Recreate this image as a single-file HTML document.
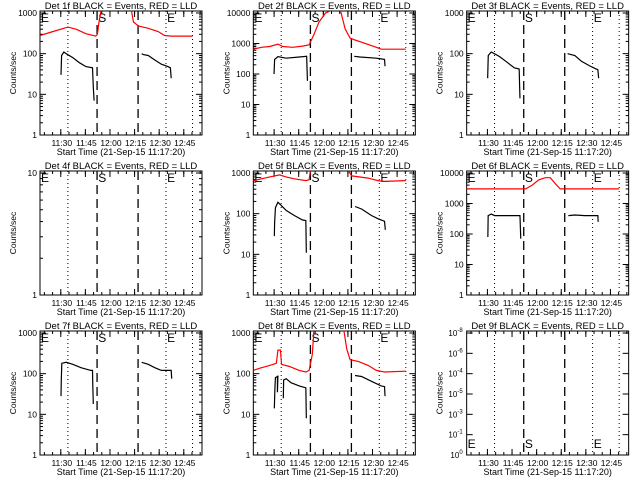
<!DOCTYPE html>
<html><head><meta charset="utf-8"><style>
html,body{margin:0;padding:0;background:#fff;}
svg{display:block;font-family:"Liberation Sans",sans-serif;}
</style></head><body>
<svg id="c" width="640" height="480" viewBox="0 0 640 480" xmlns="http://www.w3.org/2000/svg"></svg>
<script>
// minutes after 11:17:20
const markerTimes = [17, 34.8, 59.8, 76.8, 93];
const markerStyles = ['dot','dash','dash','dot','dot'];
const xTickMinutes = [12.67, 27.67, 42.67, 57.67, 72.67, 87.67];
const xTickLabels = ['11:30','11:45','12:00','12:15','12:30','12:45'];
const panelDetectors = ['1f','2f','3f','4f','5f','6f','7f','8f','9f'];
const panelDecades = [3,4,3,1,3,4,3,3,0];
// black (events) series: time arrays and value arrays, null breaks segments
const blackT1 = [12.8,13.2,14.6,16,20,24,28,32,32.5,33,null,62,63,66,70,74,78,79.5,80];
const blackV1 = [30,90,110,100,80,60,48,45,15,7,null,100,95,90,70,55,48,45,25];
const redT1 = [0,8,17,22,28,34,35,36,37.5,null,55.5,57,60,66,72,76,80,85,93];
const redV1 = [280,350,450,400,310,270,300,600,1300,null,1300,600,480,420,350,280,270,270,270];
const blackT2 = [12.6,13,15,20,28,32.5,33,null,61.5,65,75,80,80.3];
const blackV2 = [100,300,370,330,360,380,60,null,380,360,330,300,180];
const redT2 = [0,5,10,15,18,24,30,34,37,40,44,49,53,56,59,62,66,75,78,93];
const redV2 = [650,750,800,950,800,750,820,900,2000,5000,10000,13000,13000,3000,1500,1300,1100,750,650,650];
const blackT3 = [12.8,13.2,15,20,25,29,32,32.5,null,61.5,66,70,75,80,80.5];
const blackV3 = [25,90,110,85,60,45,42,8,null,100,90,65,50,40,25];
const blackT5 = [12.8,13,13.5,15,17,20,25,30,32,32.3,null,62,66,72,76,80,80.5];
const blackV5 = [28,60,140,190,160,120,90,70,68,11,null,150,130,90,75,65,40];
const redT5 = [0,5,10,16,20,25,32,34,35,null,57,60,70,76,80,93];
const redV5 = [650,720,800,900,800,720,650,680,1300,null,1300,850,750,650,620,650];
const blackT6 = [12.9,13.1,15,17,32.5,33,null,62,66,72,80,80.2];
const blackV6 = [80,400,450,400,400,70,null,400,420,400,400,250];
const redT6 = [0,36,40,44,48,51,54,57,93];
const redV6 = [3000,3000,4000,6000,7000,7000,4500,3000,3000];
const blackT7 = [12.8,13,13.3,16,20,25,31,32,32.2,32.5,null,62,66,70,74,80,80.3];
const blackV7 = [28,70,180,190,170,140,120,120,50,18,null,190,170,140,120,120,75];
const blackT8 = [12.8,13.2,13.5,14.7,14.7,15,null,18.3,18.5,20,23,28,32,32.3,null,62,66,72,78,80,80.3];
const blackV8 = [14,45,80,85,35,90,null,25,70,75,60,50,45,8,null,90,85,65,50,48,28];
const redT8 = [0,5,10,14,15,16.5,17.2,22,28,32,34,36,37,null,55,57,59,64,70,75,80,93];
const redV8 = [120,140,160,180,380,380,170,150,120,110,120,300,1300,null,1300,400,220,200,160,120,110,115];
const blackSeries = [[blackT1,blackV1],[blackT2,blackV2],[blackT3,blackV3],null,[blackT5,blackV5],[blackT6,blackV6],[blackT7,blackV7],[blackT8,blackV8],null];
const redSeries = [[redT1,redV1],[redT2,redV2],null,null,[redT5,redV5],[redT6,redV6],null,[redT8,redV8],null];
const p9Labels = ['0','-1','-3','-5','-4','-6','-8'];

const NS='http://www.w3.org/2000/svg';
const svg=document.getElementById('c');
const X0=40,X1=202,Y0=11,Y1=135,YT=13;
function mk(tag,attrs,parent){const e=document.createElementNS(NS,tag);for(const k in attrs)e.setAttribute(k,attrs[k]);parent.appendChild(e);return e;}
function xs(m){return X0+m*1.64;}

for(let p=0;p<9;p++){
  const col=p%3,row=Math.floor(p/3);
  const g=mk('g',{transform:'translate('+(col*213.33).toFixed(2)+','+(row*160)+')'},svg);
  
  
  const dec=panelDecades[p];
  const nd = dec===0?6:dec;
  const ys=v=>Y1-(Math.log10(v))*(Y1-YT)/nd;
  const cp=mk('clipPath',{id:'cl'+p},g);
  mk('rect',{x:X0,y:Y0,width:X1-X0,height:Y1-Y0},cp);
  const t=mk('text',{x:121,y:9,'text-anchor':'middle','font-size':'9.5'},g);
  t.textContent='Det '+panelDetectors[p]+' BLACK = Events, RED = LLD';
  
  
  const box=mk('rect',{x:X0,y:Y0,width:X1-X0,height:Y1-Y0,fill:'none',stroke:'#000','stroke-width':1},g);
  
  
  if(dec>0){
    for(let d=0;d<=dec;d++){
      const y=ys(Math.pow(10,d));
      mk('line',{x1:X0,x2:X0+6,y1:y,y2:y,stroke:'#000'},g);
      mk('line',{x1:X1-6,x2:X1,y1:y,y2:y,stroke:'#000'},g);
      const l=mk('text',{x:37,y:y+3,'text-anchor':'end','font-size':'8.5'},g);
      l.textContent=String(Math.pow(10,d));
      
      
      if(d<dec){for(let k=2;k<10;k++){const yy=ys(k*Math.pow(10,d));
        mk('line',{x1:X0,x2:X0+3,y1:yy,y2:yy,stroke:'#000'},g);
        mk('line',{x1:X1-3,x2:X1,y1:yy,y2:yy,stroke:'#000'},g);}}
    }
  } else {
    for(let i=0;i<7;i++){
      const y=Y1-i*(Y1-YT)/6;
      mk('line',{x1:X0,x2:X0+6,y1:y,y2:y,stroke:'#000'},g);
      mk('line',{x1:X1-6,x2:X1,y1:y,y2:y,stroke:'#000'},g);
      const l=mk('text',{x:36,y:y+3,'text-anchor':'end','font-size':'8'},g);
      l.innerHTML='10<tspan dy="-4" font-size="6">'+p9Labels[i]+'</tspan>';
      
      
    }
  }
  const yl=mk('text',{x:0,y:0,transform:'translate(16,73) rotate(-90)','text-anchor':'middle','font-size':'8.5'},g);
  yl.textContent='Counts/sec';
  
  
  for(let m=2.67;m<=98;m+=5){const x=xs(m);
    mk('line',{x1:x,x2:x,y1:Y1,y2:Y1-3,stroke:'#000'},g);
    mk('line',{x1:x,x2:x,y1:Y0,y2:Y0+3,stroke:'#000'},g);}
  xTickMinutes.forEach((m,i)=>{const x=xs(m);
    mk('line',{x1:x,x2:x,y1:Y1,y2:Y1-6,stroke:'#000'},g);
    mk('line',{x1:x,x2:x,y1:Y0,y2:Y0+6,stroke:'#000'},g);
    const l=mk('text',{x:x+1,y:146,'text-anchor':'middle','font-size':'8.5'},g);
    l.textContent=xTickLabels[i];
    
    });
  const xl=mk('text',{x:121,y:155,'text-anchor':'middle','font-size':'9'},g);
  xl.textContent='Start Time (21-Sep-15 11:17:20)';
  
  
  markerTimes.forEach((m,i)=>{const x=xs(m);
    const ln=mk('line',{x1:x,x2:x,y1:Y0,y2:Y1,stroke:'#000','stroke-width':markerStyles[i]==='dash'?1.3:1,'stroke-dasharray':markerStyles[i]==='dash'?'9,5':'1,3'},g);
    
    });
  const ly = dec===0?128:22;
  [['E',X0+1],['S',xs(35.5)],['E',xs(77.5)]].forEach(a=>{
    const e=mk('text',{x:a[1],y:ly,'font-size':'12'},g);
    e.textContent=a[0];
    
    });
  function series(s,color,w,name){
    if(!s)return;
    const T=s[0],V=s[1];let d='',start=true;
    for(let i=0;i<T.length;i++){
      if(T[i]===null){start=true;continue;}
      d+=(start?'M':'L')+xs(T[i]).toFixed(1)+','+ys(V[i]).toFixed(1);start=false;}
    const pth=mk('path',{d:d,fill:'none',stroke:color,'stroke-width':w,'clip-path':'url(#cl'+p+')'},g);
    
    
  }
  series(redSeries[p],'#ff0000',1.2,'lld-series');
  series(blackSeries[p],'#000',1.2,'events-series');
}
</script>
</body></html>
